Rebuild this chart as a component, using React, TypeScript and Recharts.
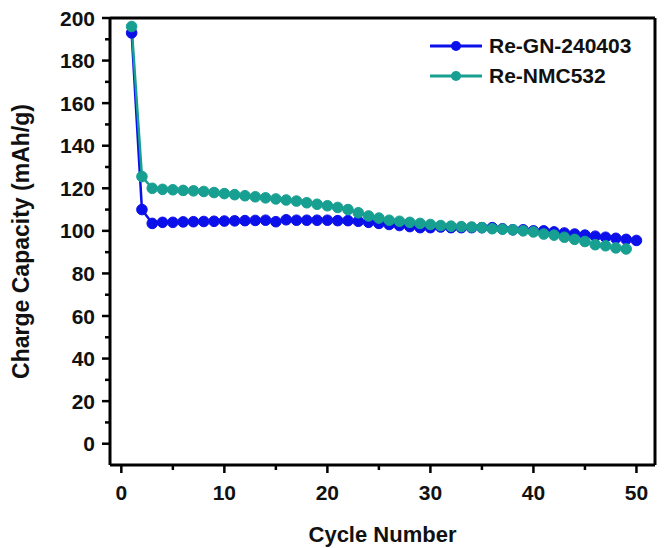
import React from "react";
import { LineChart, Line, XAxis, YAxis, ReferenceLine } from "recharts";

const cycles = [
  1, 2, 3, 4, 5, 6, 7, 8, 9, 10, 11, 12, 13, 14, 15, 16, 17, 18, 19, 20, 21, 22, 23, 24, 25,
  26, 27, 28, 29, 30, 31, 32, 33, 34, 35, 36, 37, 38, 39, 40, 41, 42, 43, 44, 45, 46, 47, 48, 49, 50,
];
const reGN = [
  193, 110, 103.5, 104, 104, 104.2, 104.3, 104.4, 104.5, 104.6, 104.7, 104.8, 104.9, 105, 104.3,
  105.2, 105, 105, 105, 105, 104.8, 104.8, 104.5, 104, 103.5, 103, 102.5, 102, 101.5, 101.5, 101.8,
  101.5, 101.5, 101.5, 101.5, 101.5, 101, 100.5, 100.5, 100, 100, 99.5, 99, 98.5, 98, 97.5, 97,
  96.5, 96, 95.5,
];
const reNMC = [
  196, 125.5, 120, 119.5, 119.3, 119, 118.8, 118.5, 118, 117.5, 117, 116.5, 116, 115.5, 115, 114.5,
  114, 113.2, 112.5, 111.8, 111, 110, 108.5, 107, 106, 105, 104.5, 104, 103.5, 103, 102.5, 102.2,
  102, 101.8, 101.5, 101, 100.8, 100.5, 100, 99.5, 98.5, 98, 97, 96, 95, 93.5, 93, 92, 91.5,
];
const xTicks = [0, 5, 10, 15, 20, 25, 30, 35, 40, 45, 50];
const yTicks = [0, 10, 20, 30, 40, 50, 60, 70, 80, 90, 100, 110, 120, 130, 140, 150, 160, 170, 180, 190, 200];
const seriesNames = ["Re-GN-240403", "Re-NMC532"];

const BLUE = "#0b0fea";
const TEAL = "#17a092";
const FONT = "'Liberation Sans', Arial, sans-serif";
const X_MIN = -1.1;
const X_MAX = 51.8;
const Y_MIN = -10;
const Y_MAX = 200;

const data = cycles.map((c, i) => ({
  cycle: c,
  gn: reGN[i],
  nmc: i < reNMC.length ? reNMC[i] : null,
}));

const XTick = (props: any) => {
  const { x, y, payload } = props;
  const major = payload.value % 10 === 0;
  return (
    <g>
      <line x1={x} x2={x} y1={y} y2={y + (major ? 8 : 5)} stroke="#000" strokeWidth={2.5} />
      {major && (
        <text x={x} y={y + 35} textAnchor="middle" fontFamily={FONT} fontWeight="bold" fontSize={21} fill="#111">
          {payload.value}
        </text>
      )}
    </g>
  );
};

const YTick = (props: any) => {
  const { x, y, payload } = props;
  const major = payload.value % 20 === 0;
  return (
    <g>
      <line x1={x} x2={x - (major ? 8 : 5)} y1={y} y2={y} stroke="#000" strokeWidth={2.5} />
      {major && (
        <text x={x - 15} y={y + 7.5} textAnchor="end" fontFamily={FONT} fontWeight="bold" fontSize={21} fill="#111">
          {payload.value}
        </text>
      )}
    </g>
  );
};

const LegendBox = () => {
  const colors = [BLUE, TEAL];
  return (
    <div
      style={{
        position: "absolute",
        left: 428,
        top: 31,
        fontFamily: FONT,
        fontWeight: "bold",
        fontSize: 21,
        color: "#111",
      }}
    >
      {seriesNames.map((name, i) => (
        <div key={name} style={{ display: "flex", alignItems: "center", height: 30 }}>
          <svg width={56} height={14} style={{ marginRight: 5 }}>
            <line x1={2} x2={54} y1={7} y2={7} stroke={colors[i]} strokeWidth={3} />
            <circle cx={28} cy={7} r={5} fill={colors[i]} />
          </svg>
          <span>{name}</span>
        </div>
      ))}
    </div>
  );
};

export default function App() {
  return (
    <div style={{ position: "absolute", left: 0, top: 0, width: 667, height: 548, background: "#fff" }}>
      <LineChart width={667} height={548} data={data} margin={{ top: 18, right: 12, bottom: 0, left: 0 }}>
        <XAxis
          dataKey="cycle"
          type="number"
          domain={[X_MIN, X_MAX]}
          ticks={xTicks}
          interval={0}
          allowDataOverflow
          height={83}
          tickSize={0}
          tickMargin={0}
          tickLine={false}
          tick={<XTick />}
          axisLine={{ stroke: "#000", strokeWidth: 3 }}
          label={{ value: "Cycle Number", position: "insideBottom", offset: 6, style: { fontFamily: FONT, fontWeight: "bold", fontSize: 22, fill: "#111" } }}
        />
        <YAxis
          type="number"
          domain={[Y_MIN, Y_MAX]}
          ticks={yTicks}
          interval={0}
          allowDataOverflow
          width={110}
          tickSize={0}
          tickMargin={0}
          tickLine={false}
          tick={<YTick />}
          axisLine={{ stroke: "#000", strokeWidth: 3 }}
          label={{ value: "Charge Capacity (mAh/g)", angle: -90, position: "insideLeft", offset: 21, style: { textAnchor: "middle", fontFamily: FONT, fontWeight: "bold", fontSize: 23, fill: "#111" } }}
        />
        <ReferenceLine y={Y_MAX} stroke="#000" strokeWidth={3} ifOverflow="visible" />
        <ReferenceLine x={X_MAX} stroke="#000" strokeWidth={3} ifOverflow="visible" />
        <Line
          dataKey="gn"
          name={seriesNames[0]}
          stroke={BLUE}
          strokeWidth={2.5}
          dot={{ r: 5.3, fill: BLUE, stroke: BLUE, strokeWidth: 1 }}
          isAnimationActive={false}
        />
        <Line
          dataKey="nmc"
          name={seriesNames[1]}
          stroke={TEAL}
          strokeWidth={2.5}
          dot={{ r: 5.3, fill: TEAL, stroke: TEAL, strokeWidth: 1 }}
          isAnimationActive={false}
        />
      </LineChart>
      <LegendBox />
    </div>
  );
}
